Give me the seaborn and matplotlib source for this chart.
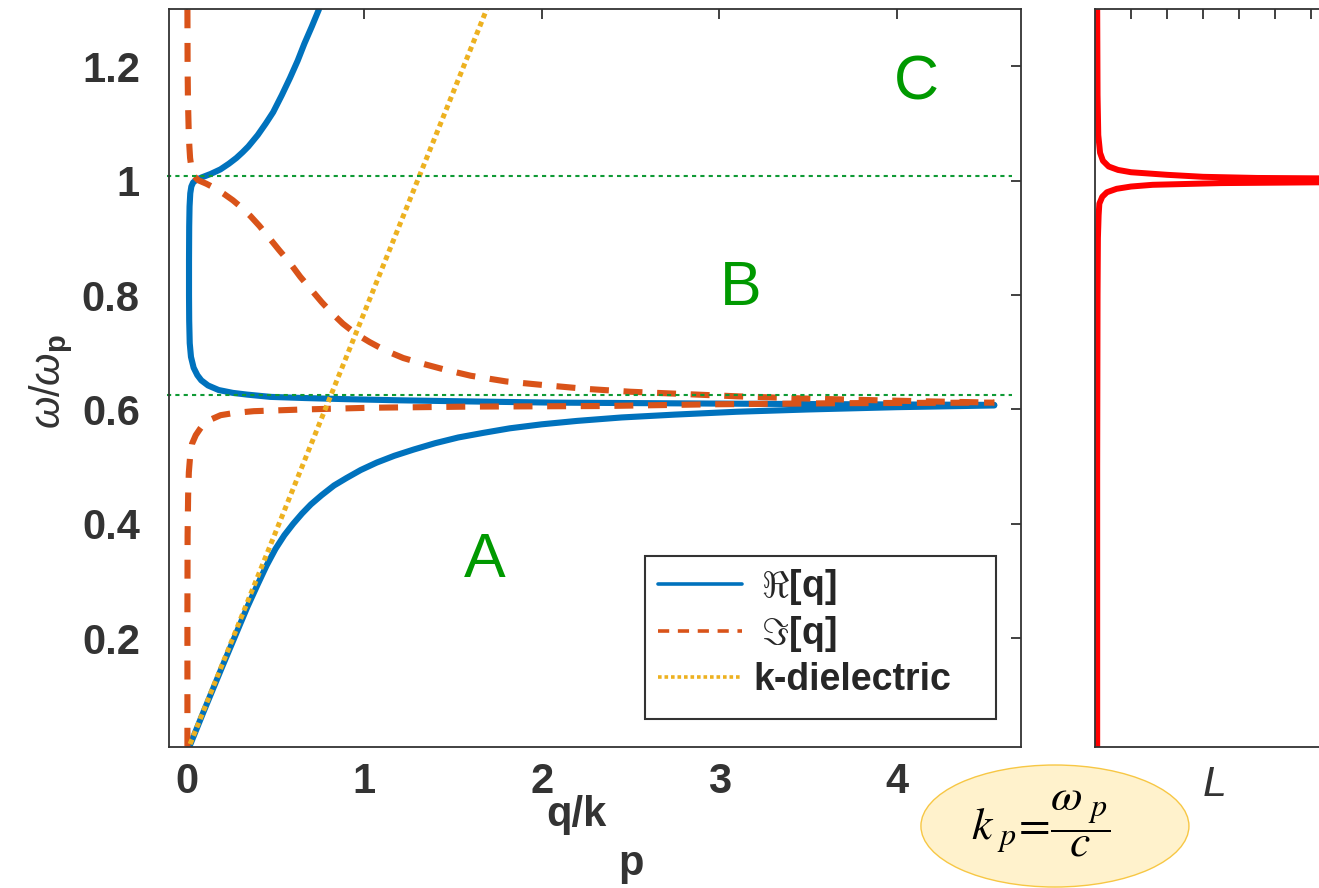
import numpy as np
import pandas as pd
import seaborn as sns
import matplotlib.pyplot as plt
from matplotlib.patches import Ellipse, Rectangle

# %% values (q/k_p , omega/omega_p)
# Re[q] - lower branch
re_low_q = [0.015, 0.100, 0.200, 0.280, 0.341, 0.400, 0.450, 0.500, 0.550, 0.600, 0.650, 0.700,
            0.760, 0.830, 0.900, 0.980, 1.070, 1.170, 1.280, 1.400, 1.530, 1.670, 1.820, 2.000,
            2.200, 2.450, 2.750, 3.100, 3.500, 4.000, 4.550]
re_low_w = [0.010, 0.075, 0.150, 0.209, 0.254, 0.294, 0.327, 0.356, 0.380, 0.400, 0.418, 0.434,
            0.450, 0.467, 0.480, 0.494, 0.507, 0.519, 0.530, 0.541, 0.551, 0.559, 0.567, 0.574,
            0.580, 0.586, 0.591, 0.596, 0.600, 0.604, 0.607]
# Re[q] - upper branch (back-bending)
re_up_q = [0.745, 0.705, 0.663, 0.625, 0.582, 0.536, 0.487, 0.445, 0.400, 0.347, 0.315, 0.280,
           0.238, 0.190, 0.135, 0.085, 0.055, 0.036, 0.026, 0.020, 0.016, 0.014, 0.013, 0.013,
           0.014, 0.017, 0.024, 0.039, 0.060, 0.082, 0.120, 0.180, 0.260, 0.340, 0.472, 0.663,
           0.900, 1.200, 1.600, 2.060, 2.600, 3.135, 3.800, 4.550]
re_up_w = [1.300, 1.270, 1.240, 1.210, 1.180, 1.150, 1.120, 1.100, 1.080, 1.060, 1.050, 1.040,
           1.030, 1.020, 1.012, 1.006, 1.002, 0.997, 0.990, 0.978, 0.955, 0.920, 0.860, 0.800,
           0.755, 0.716, 0.692, 0.673, 0.660, 0.651, 0.642, 0.634, 0.629, 0.626, 0.622, 0.620,
           0.618, 0.616, 0.614, 0.612, 0.611, 0.610, 0.609, 0.608]
# Im[q] - upper branch
im_up_q = [0.004, 0.005, 0.007, 0.011, 0.015, 0.019, 0.028, 0.042, 0.065, 0.110, 0.160, 0.210,
           0.260, 0.310, 0.360, 0.410, 0.460, 0.520, 0.580, 0.640, 0.700, 0.760, 0.820, 0.880,
           0.950, 1.030, 1.120, 1.220, 1.330, 1.450, 1.600, 1.800, 2.000, 2.250, 2.500, 2.800,
           3.100, 3.500, 3.900, 4.200, 4.550]
im_up_w = [1.300, 1.200, 1.141, 1.090, 1.060, 1.040, 1.020, 1.008, 1.001, 0.995, 0.987, 0.977,
           0.966, 0.953, 0.938, 0.921, 0.902, 0.879, 0.857, 0.832, 0.810, 0.788, 0.768, 0.750,
           0.733, 0.718, 0.703, 0.690, 0.680, 0.670, 0.659, 0.649, 0.643, 0.636, 0.631, 0.627,
           0.623, 0.619, 0.616, 0.614, 0.612]
# Im[q] - lower branch
im_low_q = [0.004, 0.004, 0.005, 0.008, 0.012, 0.019, 0.030, 0.051, 0.075, 0.097, 0.140, 0.191,
            0.270, 0.378, 0.659, 1.034, 1.596, 2.344, 2.955, 3.700, 4.550]
im_low_w = [0.010, 0.250, 0.380, 0.450, 0.490, 0.517, 0.540, 0.555, 0.566, 0.575, 0.583, 0.590,
            0.594, 0.597, 0.600, 0.603, 0.605, 0.606, 0.609, 0.611, 0.612]
# light line in the dielectric
kd_q = [0.0, 1.69]
kd_w = [0.0, 1.30]
# band edges (green dotted)
edge_w = [1.008, 0.6245]

# loss function L(omega) (right panel)
loss_w = [0.010, 0.500, 0.800, 0.900, 0.940, 0.960, 0.972, 0.980, 0.986, 0.990, 0.993, 0.996,
          0.998, 0.9995, 1.001, 1.0025, 1.004, 1.005, 1.007, 1.0105, 1.015, 1.019, 1.025, 1.035,
          1.049, 1.080, 1.150, 1.300]
loss_L = [0.006, 0.006, 0.007, 0.008, 0.010, 0.012, 0.020, 0.033, 0.060, 0.100, 0.160, 0.350,
          0.750, 1.400, 2.000, 1.300, 0.700, 0.450, 0.300, 0.200, 0.100, 0.064, 0.038, 0.022,
          0.014, 0.009, 0.007, 0.006]

x_ticks = [0, 1, 2, 3, 4]
y_ticks = [0.2, 0.4, 0.6, 0.8, 1.0, 1.2]
y_ticklabels = ['0.2', '0.4', '0.6', '0.8', '1', '1.2']

# %% style
blue, orange, yellow, red = '#0072BD', '#D95319', '#EDB120', '#FF0000'
green_line, green_txt, grey = '#0F9A35', '#009900', '#333333'

sns.set_theme(style='white')
plt.rcParams['font.family'] = ['Liberation Sans', 'DejaVu Sans']
plt.rcParams['mathtext.fontset'] = 'custom'
plt.rcParams['mathtext.rm'] = 'Liberation Sans:normal'
plt.rcParams['mathtext.it'] = 'Liberation Sans:italic:normal'
plt.rcParams['mathtext.bf'] = 'Liberation Sans:bold'

fig = plt.figure(figsize=(13.19, 8.88), dpi=100)
ax = fig.add_axes([0.1281, 0.1591, 0.6459, 0.8304])
ax2 = fig.add_axes([0.8302, 0.1591, 0.2729, 0.8304])

# %% main panel
lw = 4.4
sns.lineplot(data=pd.DataFrame({'q': re_low_q, 'w': re_low_w}), x='q', y='w', ax=ax,
             sort=False, estimator=None, color=blue, lw=lw, label=r'$\;\Re$[q]')
sns.lineplot(data=pd.DataFrame({'q': re_up_q, 'w': re_up_w}), x='q', y='w', ax=ax,
             sort=False, estimator=None, color=blue, lw=lw)
sns.lineplot(data=pd.DataFrame({'q': im_up_q, 'w': im_up_w}), x='q', y='w', ax=ax,
             sort=False, estimator=None, color=orange, lw=lw, linestyle=(0, (3.1, 2.4)),
             label=r'$\;\Im$[q]')
sns.lineplot(data=pd.DataFrame({'q': im_low_q, 'w': im_low_w}), x='q', y='w', ax=ax,
             sort=False, estimator=None, color=orange, lw=lw, linestyle=(0, (3.1, 2.4)))
sns.lineplot(data=pd.DataFrame({'q': kd_q, 'w': kd_w}), x='q', y='w', ax=ax,
             sort=False, estimator=None, color=yellow, lw=3.6, linestyle=(0, (1, 0.8)),
             label='k-dielectric')
ax.hlines(edge_w, -0.11, 4.65, colors=green_line, lw=1.5, linestyles=(0, (2, 2)), clip_on=False)

ax.set_xlim(-0.1, 4.7)
ax.set_ylim(0.01, 1.3)
ax.set_xticks(x_ticks)
ax.set_yticks(y_ticks, labels=y_ticklabels)
ax.tick_params(direction='in', length=7, width=1.3, top=True, right=True, color=grey,
               labelcolor=grey, labelsize=30)
ax.tick_params(axis='y', pad=21)
ax.tick_params(axis='x', pad=11)
for lbl in ax.get_xticklabels() + ax.get_yticklabels():
    lbl.set_fontweight('bold')
for sp in ax.spines.values():
    sp.set_color(grey)
    sp.set_linewidth(1.3)

# x label with the subscript set well below, as in the original
ax.set_xlabel('q/k', fontsize=30, fontweight='bold', color=grey)
ax.xaxis.set_label_coords(0.478, -0.066)
ax.text(0.542, -0.159, 'p', transform=ax.transAxes, fontsize=30, fontweight='bold',
        color=grey, ha='center', va='center')
ax.set_ylabel(r'$\omega/\omega_{\mathbf{p}}$', fontsize=30, color=grey)
ax.yaxis.set_label_coords(-0.110, 0.495)

for txt, xq, yw in [('A', 1.68, 0.336), ('B', 3.12, 0.812), ('C', 4.11, 1.171)]:
    ax.text(xq, yw, txt, color=green_txt, fontsize=45, ha='center', va='center')

# legend: frameless entries plus a plain box like the original
leg = ax.legend(loc='upper left', bbox_to_anchor=(0.574, 0.244), borderaxespad=0,
                borderpad=0, frameon=False, prop={'weight': 'bold', 'size': 27},
                handlelength=2.24, handletextpad=0.3, labelspacing=0.2)
for ln in leg.get_lines():
    ln.set_linewidth(2.6)
ax.add_patch(Rectangle((0.559, 0.038), 0.412, 0.221, transform=ax.transAxes,
                       facecolor='none', edgecolor=grey, lw=1.5, zorder=5))

# %% loss function panel
sns.lineplot(data=pd.DataFrame({'L': loss_L, 'w': loss_w}), x='L', y='w', ax=ax2,
             sort=False, estimator=None, color=red, lw=4.3)
ax2.set_xlim(0, 1)
ax2.set_ylim(0.01, 1.3)
ax2.set_xticks(np.arange(1, 10) / 10)
ax2.set_yticks(y_ticks)
ax2.tick_params(direction='in', length=7, width=1.3, top=True, color=grey,
                labelbottom=False, labelleft=False)
for sp in ax2.spines.values():
    sp.set_color(grey)
    sp.set_linewidth(1.3)
ax2.set_ylabel('')
ax2.set_xlabel('L', fontsize=31, fontstyle='italic', color=grey)
ax2.xaxis.set_label_coords(0.333, -0.025)

# %% k_p definition bubble
fig.patches.append(Ellipse((0.7998, 0.0698), 0.2032, 0.1374, transform=fig.transFigure,
                           facecolor='#FFF2CC', edgecolor='#F7C744', lw=1.0))
fig.text(0.789, 0.072, r'$k_{\ p}\!=\!\dfrac{\omega_{\ p}}{c}$', math_fontfamily='stix',
         fontsize=33, ha='center', va='center', color='black')

fig.savefig('out.png', dpi=100)
